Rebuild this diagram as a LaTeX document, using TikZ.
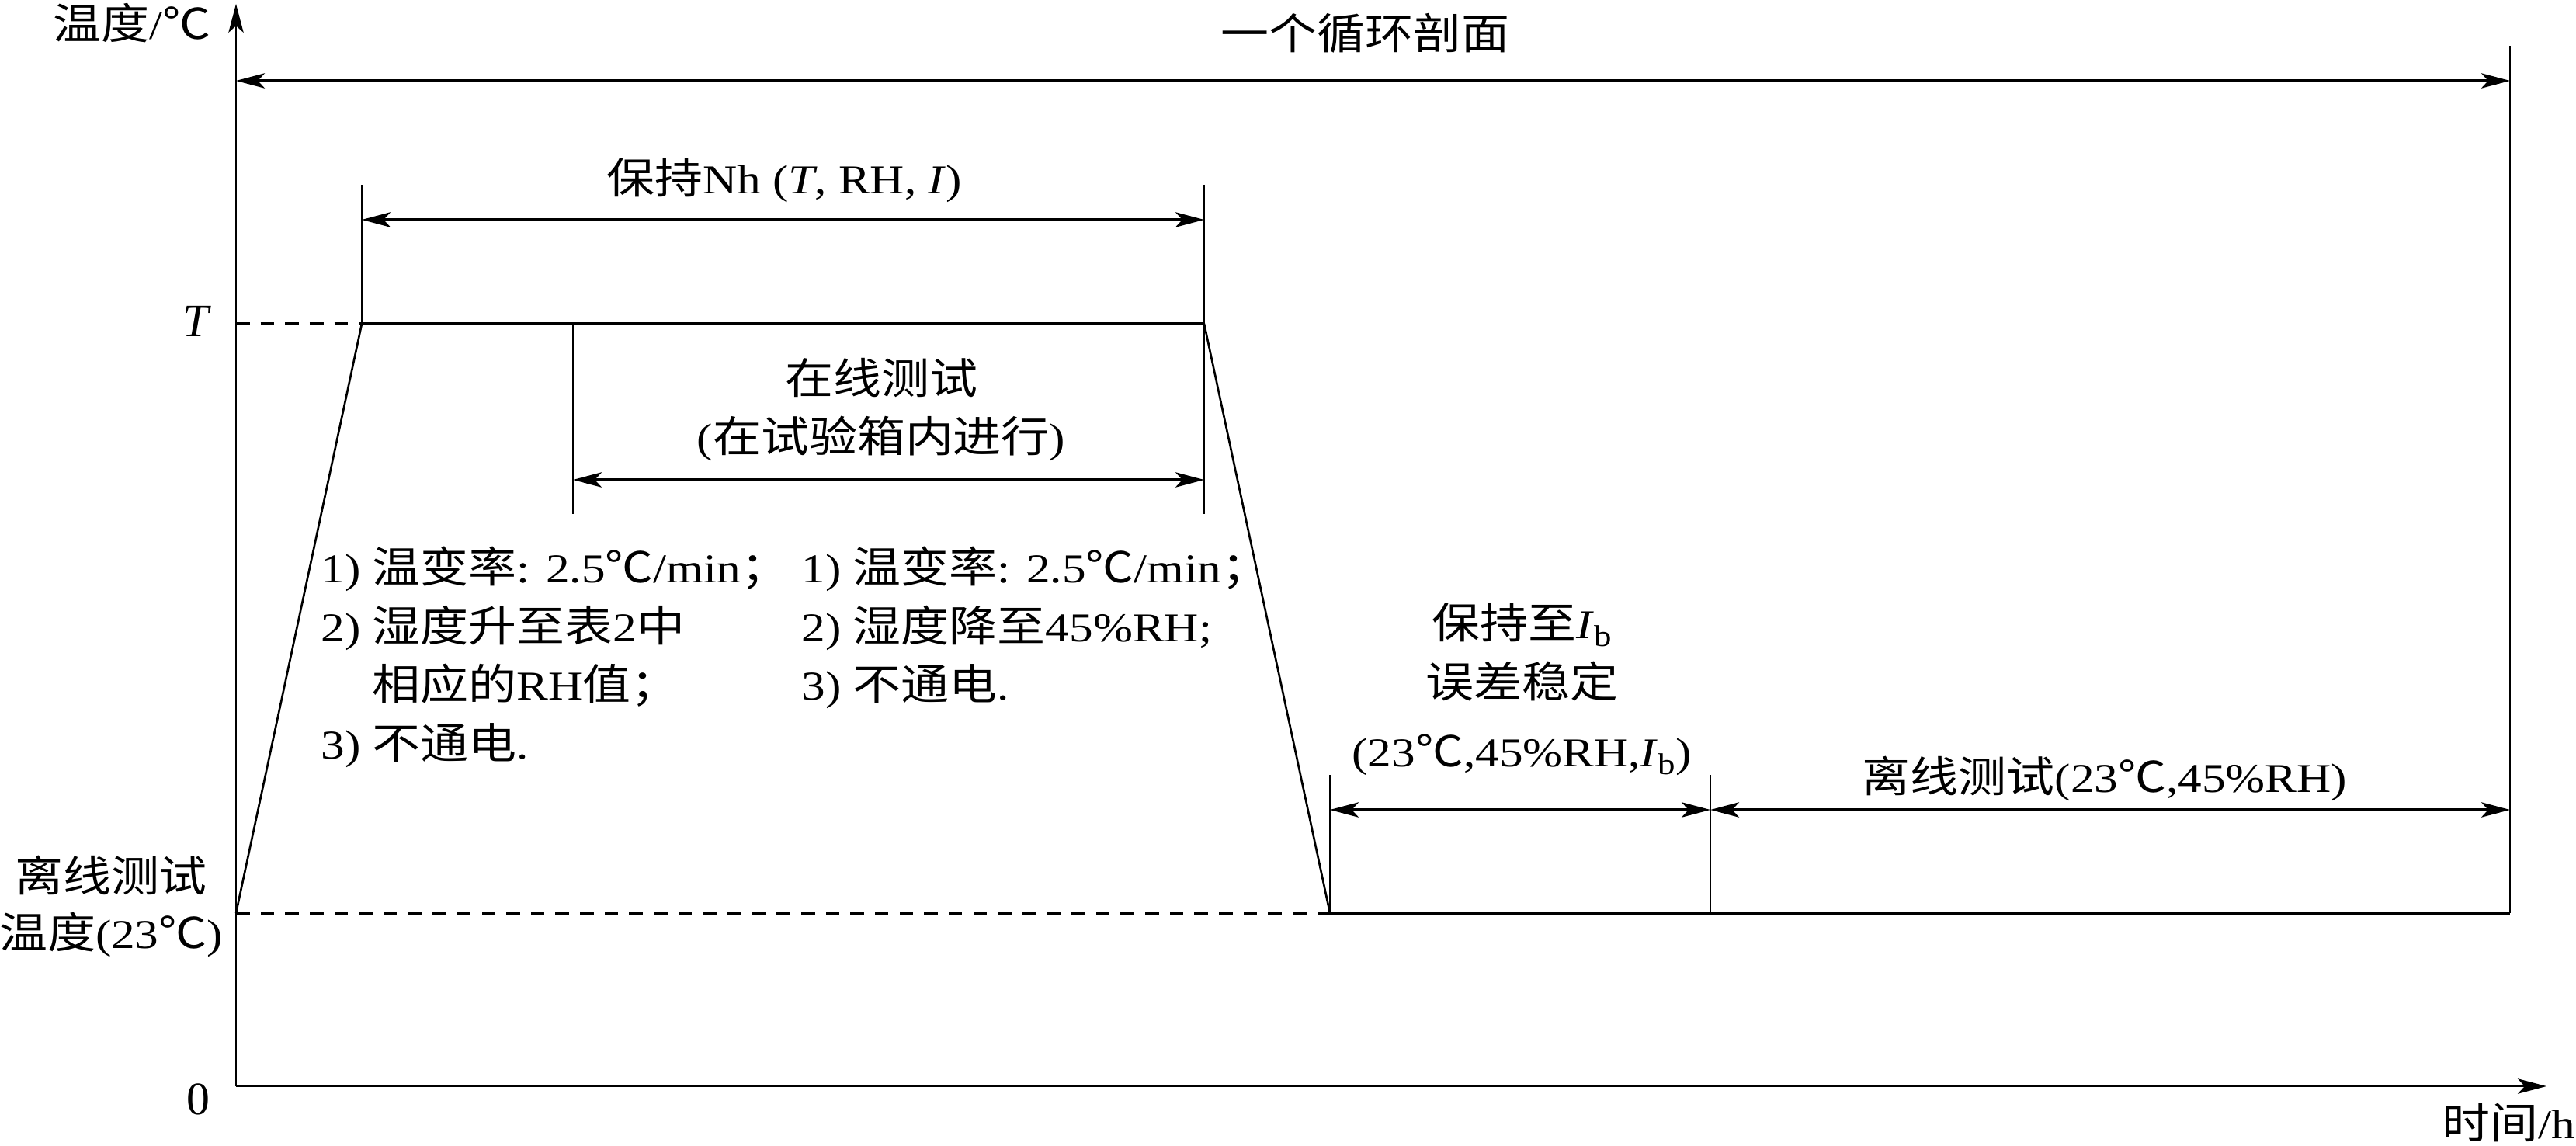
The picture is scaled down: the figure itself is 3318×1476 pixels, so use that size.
\documentclass[tikz,border=0pt]{standalone}
\usepackage{fontspec}
\setmainfont[FakeStretch=1.16]{Liberation Serif}
\newfontfamily\plainserif{Liberation Serif}
\newfontfamily\cjk[Scale=1.04,FakeStretch=1.13]{Noto Sans CJK SC}
\usepackage{tikz}
\usetikzlibrary{positioning}
\usetikzlibrary{arrows.meta}
\newcommand{\zh}[1]{{\cjk #1}}
\newcommand{\lowidx}[1]{\raisebox{-0.45ex}{\fontsize{11pt}{11pt}\selectfont #1}}

\begin{document}
\begin{tikzpicture}[x=0.01cm, y=-0.01cm,
    >={Stealth[length=10.5pt, width=5.5pt, inset=2.5pt]},
    every node/.style = {inner sep=0pt, font=\fontsize{15pt}{21.6pt}\selectfont},
    big/.style = {font=\fontsize{17pt}{20pt}\selectfont\plainserif},
    axis/.style = {line width=0.8pt},
    prof/.style = {line width=1pt},
    guide/.style = {line width=0.75pt},
    dim/.style = {<->, line width=1pt},
    refline/.style = {dash pattern=on 5pt off 4pt, line width=1pt}
    ]
    \useasboundingbox (0,0) rectangle (3318,1476);

    % points of the profile
    \coordinate (O) at (304,1399);
    \coordinate (ytop) at (304,5);
    \coordinate (xend) at (3280,1399);
    \coordinate (lowL) at (304,1176);
    \coordinate (highL) at (304,417);
    \coordinate (up1) at (466,417);
    \coordinate (on1) at (738,417);
    \coordinate (dn1) at (1551,417);
    \coordinate (dn2) at (1713,1176);
    \coordinate (off1) at (2203,1176);
    \coordinate (fin) at (3233,1176);

    % levels of the dimension arrows
    \coordinate (ycyc) at (0,104);
    \coordinate (yhold) at (0,283);
    \coordinate (yon) at (0,618);
    \coordinate (ybot) at (0,1043);

    \draw[axis, ->] (O) -- (ytop);
    \draw[axis, ->] (O) -- (xend);

    \draw[refline] (highL) -- (up1);
    \draw[refline] (lowL) -- (dn2);

    \draw[guide] (lowL) -- (up1);
    \draw[prof] (up1) -- (dn1);
    \draw[guide] (dn1) -- (dn2);
    \draw[prof] (dn2) -- (fin);

    \draw[guide] (up1) -- (466,238);
    \draw[guide] (1551,238) -- (1551,662);
    \draw[guide] (on1) -- (738,662);
    \draw[guide] (dn2) -- (1713,998);
    \draw[guide] (off1) -- (2203,998);
    \draw[guide] (fin) -- (3233,59);

    \draw[dim] (O |- ycyc) -- (fin |- ycyc);
    \draw[dim] (up1 |- yhold) -- (dn1 |- yhold);
    \draw[dim] (on1 |- yon) -- (dn1 |- yon);
    \draw[dim] (dn2 |- ybot) -- (off1 |- ybot);
    \draw[dim] (off1 |- ybot) -- (fin |- ybot);

    \node[anchor=base east] (ylab) at (272,51) {\zh{温度}/\zh{℃}};
    \node[anchor=base east] (xlab) at (3318,1466) {\zh{时间}/h};
    \node[big, anchor=base] (zero) at (255,1435) {0};
    \node[big, anchor=base] (Tlab) at (252,433) {\itshape T};
    \node[anchor=base] (off23a) at (143,1148) {\zh{离线测试}};
    \node[anchor=base] (off23b) at (143,1221) {\zh{温度}(23\zh{℃})};

    \node[anchor=base] (cyc) at (1758,64) {\zh{一个循环剖面}};
    \node[anchor=base] (hold) at (1010,250) {\zh{保持}Nh (\textit{T}, RH, \textit{I})};
    \node[anchor=base] (online) at (1135,507) {\zh{在线测试}};
    \node[anchor=base] (inbox) at (1135,582) {(\zh{在试验箱内进行})};

    \node[anchor=base west] (up1a) at (413,750) {1) \zh{温变率}: 2.5\zh{℃}/min\zh{；}};
    \node[anchor=base west] (up1b) at (413,826) {2) \zh{湿度升至表}2\zh{中}};
    \node[anchor=base west] (up1c) at (413,901) {\phantom{2) }\zh{相应的}RH\zh{值；}};
    \node[anchor=base west] (up1d) at (413,977) {3) \zh{不通电}.};

    \node[anchor=base west] (dn1a) at (1032,750) {1) \zh{温变率}: 2.5\zh{℃}/min\zh{；}};
    \node[anchor=base west] (dn1b) at (1032,826) {2) \zh{湿度降至}45\%RH;};
    \node[anchor=base west] (dn1c) at (1032,901) {3) \zh{不通电}.};

    \node[anchor=base] (stab1) at (1960,822) {\zh{保持至}\textit{I}\lowidx{b}};
    \node[anchor=base] (stab2) at (1960,898) {\zh{误差稳定}};
    \node[anchor=base] (stab3) at (1960,987) {(23\zh{℃},45\%RH,\textit{I}\lowidx{b})};
    \node[anchor=base] (offtest) at (2711,1020) {\zh{离线测试}(23\zh{℃},45\%RH)};
\end{tikzpicture}
\end{document}
